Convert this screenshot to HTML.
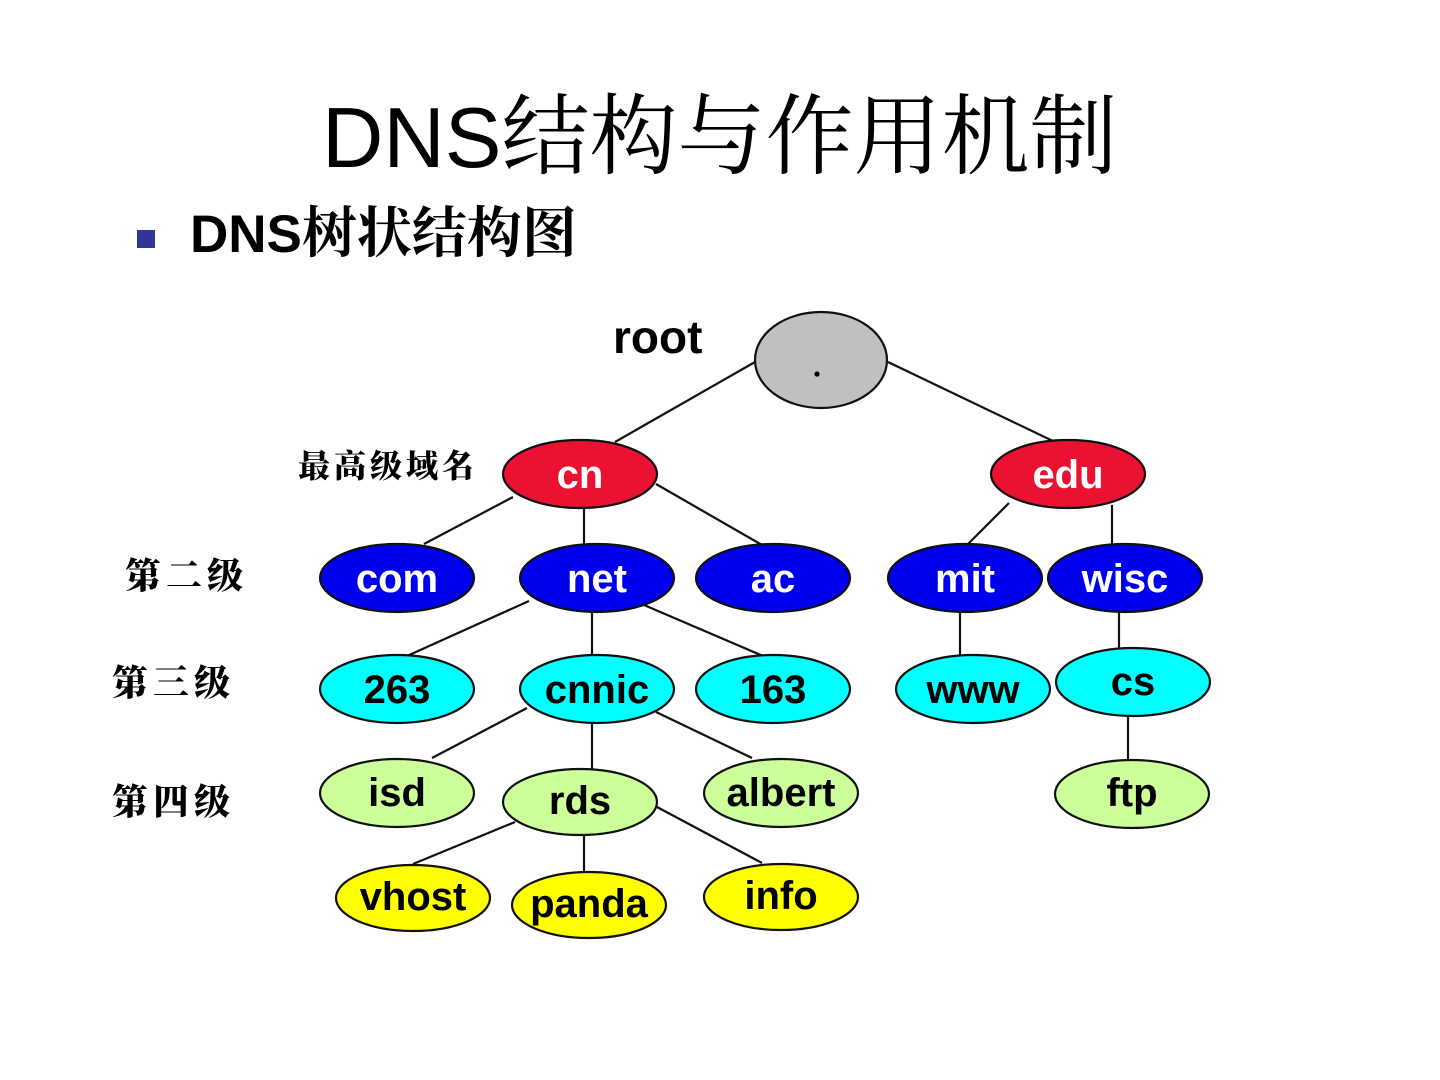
<!DOCTYPE html>
<html>
<head>
<meta charset="utf-8">
<style>
  html, body { margin: 0; padding: 0; background: #ffffff; }
  body { width: 1440px; height: 1080px; overflow: hidden; }
  svg { display: block; }
  .lat { font-family: "Liberation Sans", "Noto Sans CJK SC", sans-serif; }
  .cjk { font-family: "Noto Serif CJK SC", "Liberation Serif", serif; }
  .node { font-family: "Liberation Sans", sans-serif; font-weight: bold; font-size: 40px; text-anchor: middle; }
  .w { fill: #ffffff; }
  .b { fill: #000000; }
  .e { stroke: #111; stroke-width: 2.2; }
  .ln { stroke: #111; stroke-width: 2.2; fill: none; }
</style>
</head>
<body>
<svg width="1440" height="1080" viewBox="0 0 1440 1080" xmlns="http://www.w3.org/2000/svg">
  <rect x="0" y="0" width="1440" height="1080" fill="#ffffff"/>

  <!-- Title -->
  <text x="322" y="167" font-size="85" class="lat" fill="#000">DNS<tspan class="cjk" font-size="88" font-weight="400">结构与作用机制</tspan></text>

  <!-- Subtitle with bullet -->
  <rect x="137" y="230" width="18" height="18" fill="#333399"/>
  <text x="190" y="252" font-size="53" font-weight="bold" class="lat" fill="#000">DNS<tspan class="cjk" font-size="55" font-weight="700">树状结构图</tspan></text>

  <!-- Side labels -->
  <text x="298" y="477" font-size="32" font-weight="900" letter-spacing="4" class="cjk" fill="#000">最高级域名</text>
  <text x="125" y="588" font-size="36" font-weight="900" letter-spacing="5" class="cjk" fill="#000">第二级</text>
  <text x="112" y="695" font-size="36" font-weight="900" letter-spacing="5" class="cjk" fill="#000">第三级</text>
  <text x="112" y="814" font-size="36" font-weight="900" letter-spacing="5" class="cjk" fill="#000">第四级</text>

  <!-- root label -->
  <text x="613" y="353" font-size="46" font-weight="bold" class="lat" fill="#000">root</text>

  <!-- Connectors -->
  <line class="ln" x1="755" y1="362" x2="615" y2="442"/>
  <line class="ln" x1="888" y1="362" x2="1055" y2="442"/>
  <line class="ln" x1="513" y1="497" x2="424" y2="544"/>
  <line class="ln" x1="584" y1="507" x2="584" y2="545"/>
  <line class="ln" x1="656" y1="484" x2="762" y2="545"/>
  <line class="ln" x1="529" y1="601" x2="407" y2="656"/>
  <line class="ln" x1="592" y1="611" x2="592" y2="656"/>
  <line class="ln" x1="644" y1="605" x2="763" y2="656"/>
  <line class="ln" x1="1009" y1="503" x2="968" y2="544"/>
  <line class="ln" x1="1112" y1="505" x2="1112" y2="544"/>
  <line class="ln" x1="960" y1="611" x2="960" y2="656"/>
  <line class="ln" x1="1119" y1="611" x2="1119" y2="648"/>
  <line class="ln" x1="1128" y1="715" x2="1128" y2="760"/>
  <line class="ln" x1="527" y1="708" x2="432" y2="758"/>
  <line class="ln" x1="592" y1="722" x2="592" y2="770"/>
  <line class="ln" x1="656" y1="712" x2="752" y2="758"/>
  <line class="ln" x1="515" y1="822" x2="413" y2="864"/>
  <line class="ln" x1="584" y1="834" x2="584" y2="872"/>
  <line class="ln" x1="657" y1="807" x2="762" y2="863"/>

  <!-- root -->
  <ellipse class="e" cx="821" cy="360" rx="66" ry="48" fill="#c0c0c0"/>
  <circle cx="817" cy="374" r="2.6" fill="#000"/>

  <!-- top level -->
  <ellipse class="e" cx="580" cy="474" rx="77" ry="34" fill="#ea1230"/>
  <text class="node w" x="580" y="488">cn</text>
  <ellipse class="e" cx="1068" cy="474" rx="77" ry="34" fill="#ea1230"/>
  <text class="node w" x="1068" y="488">edu</text>

  <!-- second level -->
  <ellipse class="e" cx="397" cy="578" rx="77" ry="34" fill="#0000ee"/>
  <text class="node w" x="397" y="592">com</text>
  <ellipse class="e" cx="597" cy="578" rx="77" ry="34" fill="#0000ee"/>
  <text class="node w" x="597" y="592">net</text>
  <ellipse class="e" cx="773" cy="578" rx="77" ry="34" fill="#0000ee"/>
  <text class="node w" x="773" y="592">ac</text>
  <ellipse class="e" cx="965" cy="578" rx="77" ry="34" fill="#0000ee"/>
  <text class="node w" x="965" y="592">mit</text>
  <ellipse class="e" cx="1125" cy="578" rx="77" ry="34" fill="#0000ee"/>
  <text class="node w" x="1125" y="592">wisc</text>

  <!-- third level -->
  <ellipse class="e" cx="397" cy="689" rx="77" ry="34" fill="#00ffff"/>
  <text class="node b" x="397" y="703">263</text>
  <ellipse class="e" cx="597" cy="689" rx="77" ry="34" fill="#00ffff"/>
  <text class="node b" x="597" y="703">cnnic</text>
  <ellipse class="e" cx="773" cy="689" rx="77" ry="34" fill="#00ffff"/>
  <text class="node b" x="773" y="703">163</text>
  <ellipse class="e" cx="973" cy="689" rx="77" ry="34" fill="#00ffff"/>
  <text class="node b" x="973" y="703">www</text>
  <ellipse class="e" cx="1133" cy="682" rx="77" ry="34" fill="#00ffff"/>
  <text class="node b" x="1133" y="695">cs</text>

  <!-- fourth level -->
  <ellipse class="e" cx="397" cy="793" rx="77" ry="34" fill="#ccff99"/>
  <text class="node b" x="397" y="806">isd</text>
  <ellipse class="e" cx="580" cy="802" rx="77" ry="33" fill="#ccff99"/>
  <text class="node b" x="580" y="814">rds</text>
  <ellipse class="e" cx="781" cy="793" rx="77" ry="34" fill="#ccff99"/>
  <text class="node b" x="781" y="806">albert</text>
  <ellipse class="e" cx="1132" cy="794" rx="77" ry="34" fill="#ccff99"/>
  <text class="node b" x="1132" y="806">ftp</text>

  <!-- fifth level -->
  <ellipse class="e" cx="413" cy="898" rx="77" ry="33" fill="#ffff00"/>
  <text class="node b" x="413" y="910">vhost</text>
  <ellipse class="e" cx="589" cy="905" rx="77" ry="33" fill="#ffff00"/>
  <text class="node b" x="589" y="917">panda</text>
  <ellipse class="e" cx="781" cy="897" rx="77" ry="33" fill="#ffff00"/>
  <text class="node b" x="781" y="909">info</text>
</svg>
</body>
</html>
